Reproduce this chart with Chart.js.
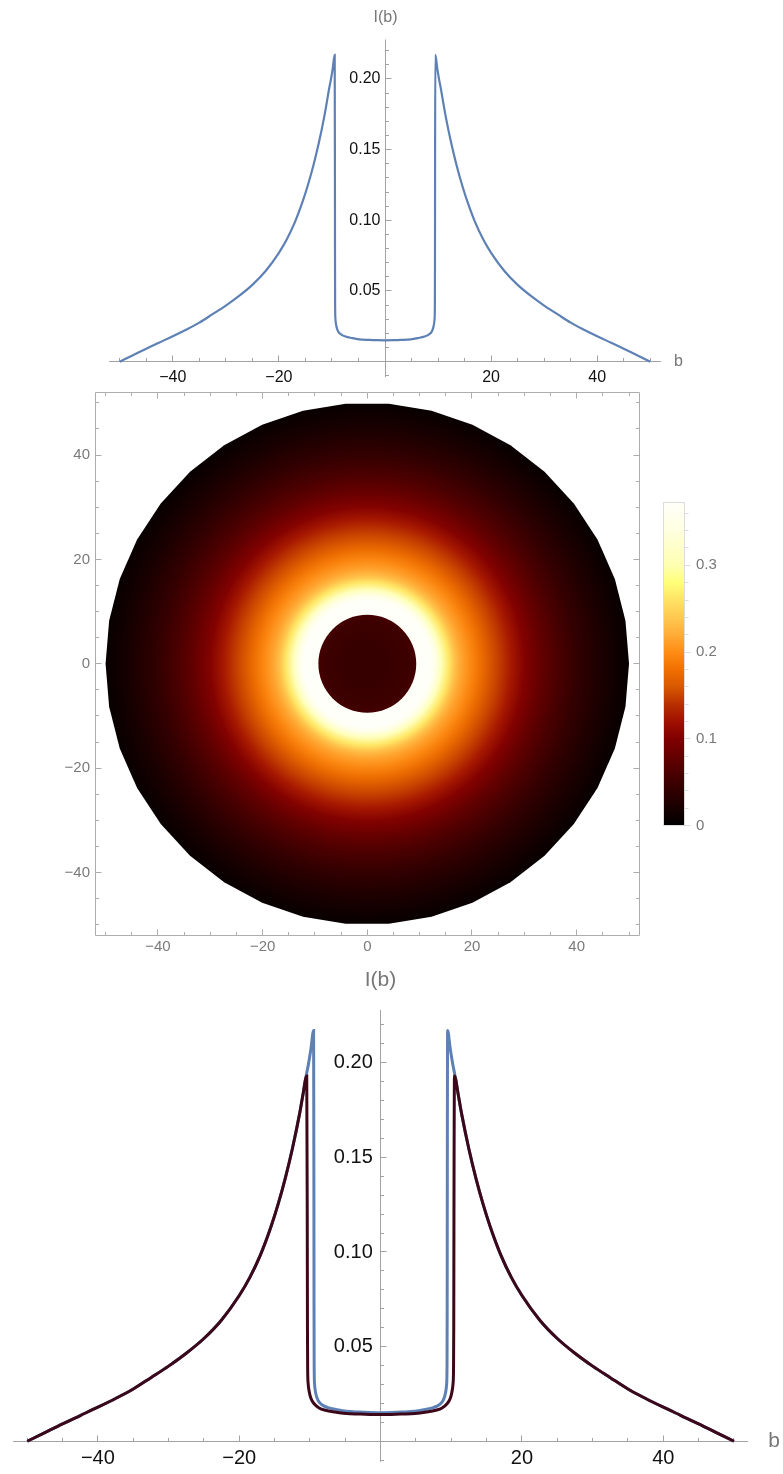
<!DOCTYPE html>
<html>
<head>
<meta charset="utf-8">
<title>I(b)</title>
<script src="https://cdn.jsdelivr.net/npm/chart.js@4.4.1/dist/chart.umd.min.js"></script>
<style>
  html, body { margin: 0; padding: 0; background: #fff; }
  body { width: 783px; height: 1474px; position: relative; overflow: hidden; }
  canvas { position: absolute; left: 0; }
</style>
</head>
<body>
<canvas id="profileTop" width="783" height="390" style="top:0"></canvas>
<canvas id="diskPlot" width="783" height="570" style="top:390px"></canvas>
<canvas id="colorBar" width="143" height="370" style="top:480px;left:640px"></canvas>
<canvas id="profileBottom" width="783" height="514" style="top:960px"></canvas>
<script>
// blue profile I(b): outer branch, jump at the shadow edge, inner branch
var blueB = [-50, -47.5, -45, -42.5, -40, -37.5, -35, -32.5, -30, -27.5, -25, -22.5, -20, -18.5, -17, -15.5, -14.5, -13.5, -12.5, -11.5, -11, -10.56, -10.2, -9.85, -9.48,
  -9.44, -9.42, -9.4, -9.34, -9.2, -8.87, -8.3, -7.45, -6.2, -4.86, -3, -1.5, 0,
  1.5, 3, 4.86, 6.2, 7.45, 8.3, 8.87, 9.2, 9.34, 9.4, 9.42, 9.44,
  9.48, 9.85, 10.2, 10.56, 11, 11.5, 12.5, 13.5, 14.5, 15.5, 17, 18.5, 20, 22.5, 25, 27.5, 30, 32.5, 35, 37.5, 40, 42.5, 45, 47.5, 50];
var blueI = [0.0000, 0.0046, 0.0092, 0.0136, 0.0180, 0.0226, 0.0276, 0.0336, 0.0397, 0.0465, 0.0543, 0.0641, 0.0770, 0.0866, 0.0985, 0.1135, 0.1253, 0.1388, 0.1543, 0.1723, 0.1828, 0.1925, 0.1995, 0.2075, 0.2170,
  0.1400, 0.0700, 0.0400, 0.0300, 0.0258, 0.0217, 0.0193, 0.0178, 0.0167, 0.0158, 0.0154, 0.0152, 0.0151,
  0.0152, 0.0154, 0.0158, 0.0167, 0.0178, 0.0193, 0.0217, 0.0258, 0.0300, 0.0400, 0.0700, 0.1400,
  0.2170, 0.2075, 0.1995, 0.1925, 0.1828, 0.1723, 0.1543, 0.1388, 0.1253, 0.1135, 0.0985, 0.0866, 0.0770, 0.0641, 0.0543, 0.0465, 0.0397, 0.0336, 0.0276, 0.0226, 0.0180, 0.0136, 0.0092, 0.0046, 0.0000];

// dark profile (bottom panel only)
var darkB = [-50, -47.5, -45, -42.5, -40, -37.5, -35, -32.5, -30, -27.5, -25, -22.5, -20, -18.5, -17, -15.5, -14.5, -13.5, -12.5, -11.5, -11, -10.45,
  -10.38, -10.35, -10.32, -10.25, -10.1, -9.85, -9.4, -8.7, -7.8, -6.5, -4.86, -3, -1.5, 0,
  1.5, 3, 4.86, 6.5, 7.8, 8.7, 9.4, 9.85, 10.1, 10.25, 10.32, 10.35, 10.38,
  10.45, 11, 11.5, 12.5, 13.5, 14.5, 15.5, 17, 18.5, 20, 22.5, 25, 27.5, 30, 32.5, 35, 37.5, 40, 42.5, 45, 47.5, 50];
var darkI = [0.0000, 0.0046, 0.0092, 0.0136, 0.0180, 0.0226, 0.0276, 0.0336, 0.0397, 0.0465, 0.0543, 0.0641, 0.0770, 0.0866, 0.0985, 0.1135, 0.1253, 0.1388, 0.1543, 0.1723, 0.1828, 0.1930,
  0.1200, 0.0600, 0.0380, 0.0305, 0.0262, 0.0226, 0.0198, 0.0176, 0.0164, 0.0155, 0.0147, 0.0144, 0.0142, 0.0141,
  0.0142, 0.0144, 0.0147, 0.0155, 0.0164, 0.0176, 0.0198, 0.0226, 0.0262, 0.0305, 0.0380, 0.0600, 0.1200,
  0.1930, 0.1828, 0.1723, 0.1543, 0.1388, 0.1253, 0.1135, 0.0985, 0.0866, 0.0770, 0.0641, 0.0543, 0.0465, 0.0397, 0.0336, 0.0276, 0.0226, 0.0180, 0.0136, 0.0092, 0.0046, 0.0000];

// ticks of the two profile panels
var bMajor = [-40, -20, 20, 40];
var bMajorLabels = ['\u221240', '\u221220', '20', '40'];
var bMinor = [-50, -45, -35, -30, -25, -15, -10, -5, 5, 10, 15, 25, 30, 35, 45, 50];
var iMajor = [0.05, 0.10, 0.15, 0.20];
var iMajorLabels = ['0.05', '0.10', '0.15', '0.20'];
var iMinor = [-0.01, 0.01, 0.02, 0.03, 0.04, 0.06, 0.07, 0.08, 0.09, 0.11, 0.12, 0.13, 0.14, 0.16, 0.17, 0.18, 0.19, 0.21, 0.22];

// image of the disk: value against radius
var shadowR = [0, 5, 8, 9.35];
var shadowVal = [0.044, 0.046, 0.050, 0.055];
var glowR = [9.35, 11, 12, 13, 14.1, 15.5, 16.7, 18, 20, 22, 25, 27.5, 30, 33, 36, 40, 44, 47, 50];
var glowVal = [0.42, 0.40, 0.38, 0.35, 0.31, 0.265, 0.235, 0.215, 0.195, 0.175, 0.148, 0.125, 0.102, 0.080, 0.062, 0.042, 0.026, 0.015, 0.006];

// frame ticks of the disk image
var frameMajor = [-40, -20, 0, 20, 40];
var frameMajorLabels = ['\u221240', '\u221220', '0', '20', '40'];
var frameMinor = [-50, -45, -35, -30, -25, -15, -10, -5, 5, 10, 15, 25, 30, 35, 45, 50];

// colour scale
var cmapVal = [0, 0.02, 0.04, 0.06, 0.08, 0.10, 0.12, 0.14, 0.16, 0.18, 0.20, 0.22, 0.24, 0.26, 0.28, 0.30, 0.34, 0.3726];
var cmapRGB = [[0,0,0], [24,0,0], [48,0,0], [74,0,0], [101,0,0], [128,0,0], [160,16,0], [184,48,0], [216,88,0], [240,112,0],
  [255,140,20], [255,172,56], [255,200,80], [255,226,100], [255,255,120], [255,255,176], [255,255,224], [255,255,250]];
var barMajor = [0, 0.1, 0.2, 0.3];
var barMajorLabels = ['0', '0.1', '0.2', '0.3'];
var barMinor = [0.02, 0.04, 0.06, 0.08, 0.12, 0.14, 0.16, 0.18, 0.22, 0.24, 0.26, 0.28, 0.32, 0.34, 0.36];

var FONT = '"Liberation Sans", Arial, sans-serif';

function colorAt(v) {
  if (v <= cmapVal[0]) return 'rgb(' + cmapRGB[0].join(',') + ')';
  for (var k = 1; k < cmapVal.length; k++) {
    if (v <= cmapVal[k]) {
      var t = (v - cmapVal[k - 1]) / (cmapVal[k] - cmapVal[k - 1]);
      var a = cmapRGB[k - 1], b = cmapRGB[k];
      return 'rgb(' + Math.round(a[0] + (b[0] - a[0]) * t) + ',' + Math.round(a[1] + (b[1] - a[1]) * t) + ',' + Math.round(a[2] + (b[2] - a[2]) * t) + ')';
    }
  }
  return 'rgb(' + cmapRGB[cmapRGB.length - 1].join(',') + ')';
}

function pts(xs, ys) {
  return xs.map(function (v, i) { return {x: v, y: ys[i]}; });
}

function crisp(v) { return Math.round(v - 0.5) + 0.5; }

// axes through the origin, ticks pointing inward like the original
var originAxes = {
  id: 'originAxes',
  beforeDatasetsDraw: function (chart, args, o) {
    var ctx = chart.ctx, a = chart.chartArea, xs = chart.scales.x, ys = chart.scales.y;
    var x0 = crisp(xs.getPixelForValue(0)), y0 = crisp(ys.getPixelForValue(0));
    ctx.save();
    ctx.strokeStyle = '#a2a2a2';
    ctx.lineWidth = 1;
    ctx.beginPath();
    ctx.moveTo(a.left, y0); ctx.lineTo(a.right, y0);
    ctx.moveTo(x0, a.top); ctx.lineTo(x0, a.bottom);
    bMajor.forEach(function (v) { var p = crisp(xs.getPixelForValue(v)); ctx.moveTo(p, y0); ctx.lineTo(p, y0 - 6); });
    bMinor.forEach(function (v) { var p = crisp(xs.getPixelForValue(v)); ctx.moveTo(p, y0); ctx.lineTo(p, y0 - 3.5); });
    iMajor.forEach(function (v) { var p = crisp(ys.getPixelForValue(v)); ctx.moveTo(x0, p); ctx.lineTo(x0 + 6, p); });
    iMinor.forEach(function (v) { var p = crisp(ys.getPixelForValue(v)); ctx.moveTo(x0, p); ctx.lineTo(x0 + 3.5, p); });
    ctx.stroke();

    ctx.fillStyle = '#111';
    ctx.font = o.tickSize + 'px ' + FONT;
    ctx.textBaseline = 'middle';
    ctx.textAlign = 'center';
    bMajor.forEach(function (v, i) { ctx.fillText(bMajorLabels[i], xs.getPixelForValue(v), y0 + o.xLabelDy); });
    ctx.textAlign = 'right';
    iMajor.forEach(function (v, i) { ctx.fillText(iMajorLabels[i], x0 - o.yLabelDx, ys.getPixelForValue(v)); });

    ctx.fillStyle = '#777';
    ctx.font = o.titleSize + 'px ' + FONT;
    ctx.textAlign = 'center';
    ctx.fillText('I(b)', x0, a.top - o.iTitleDy);
    ctx.fillText('b', a.right + o.bTitleDx, y0);
    ctx.restore();
  }
};

var profileOptions = function (pad, axisOpts) {
  return {
    responsive: false,
    animation: false,
    events: [],
    layout: {padding: pad},
    scales: {
      x: {type: 'linear', min: -52, max: 52, display: false},
      y: {type: 'linear', min: -0.01085, max: 0.2279, display: false}
    },
    plugins: {legend: {display: false}, tooltip: {enabled: false}, originAxes: axisOpts}
  };
};

new Chart(document.getElementById('profileTop'), {
  type: 'scatter',
  data: {
    datasets: [{
      data: pts(blueB, blueI),
      showLine: true, borderColor: '#5e81b5', borderWidth: 2.2, pointRadius: 0,
      cubicInterpolationMode: 'monotone'
    }]
  },
  options: profileOptions({left: 109.1, right: 122.1, top: 39.5, bottom: 13},
    {tickSize: 16, titleSize: 16, xLabelDy: 15.6, yLabelDx: 5, iTitleDy: 22, bTitleDx: 17.5}),
  plugins: [originAxes]
});

// dark curve listed first so it is drawn over the blue one
new Chart(document.getElementById('profileBottom'), {
  type: 'scatter',
  data: {
    datasets: [{
      data: pts(darkB, darkI),
      showLine: true, borderColor: '#3c0718', borderWidth: 3, pointRadius: 0,
      cubicInterpolationMode: 'monotone'
    }, {
      data: pts(blueB, blueI),
      showLine: true, borderColor: '#5e81b5', borderWidth: 3, pointRadius: 0,
      cubicInterpolationMode: 'monotone'
    }]
  },
  options: profileOptions({left: 13.1, right: 34.9, top: 49.9, bottom: 12.2},
    {tickSize: 20, titleSize: 21, xLabelDy: 17, yLabelDx: 7.7, iTitleDy: 30, bTitleDx: 26}),
  plugins: [originAxes]
});

// disk image drawn on the chart's own x/y scales
var diskImage = {
  id: 'diskImage',
  beforeDatasetsDraw: function (chart) {
    var ctx = chart.ctx, a = chart.chartArea, xs = chart.scales.x, ys = chart.scales.y;
    var cx = xs.getPixelForValue(0), cy = ys.getPixelForValue(0);
    var rEdge = glowR[glowR.length - 1], rIn = shadowR[shadowR.length - 1];
    var rPx = function (r) { return xs.getPixelForValue(r) - cx; };
    var n = 38, step = 2 * Math.PI / n, k;

    ctx.save();
    ctx.beginPath();
    for (k = 0; k < n; k++) {
      var ang = Math.PI / 2 + step / 2 + k * step;
      var px = xs.getPixelForValue(rEdge * Math.cos(ang)), py = ys.getPixelForValue(rEdge * Math.sin(ang));
      if (k === 0) ctx.moveTo(px, py); else ctx.lineTo(px, py);
    }
    ctx.closePath();
    ctx.clip();
    var g = ctx.createRadialGradient(cx, cy, 0, cx, cy, rPx(rEdge));
    g.addColorStop(0, colorAt(glowVal[0]));
    glowR.forEach(function (r, i) { g.addColorStop(r / rEdge, colorAt(glowVal[i])); });
    ctx.fillStyle = g;
    ctx.fillRect(a.left, a.top, a.right - a.left, a.bottom - a.top);

    var g2 = ctx.createRadialGradient(cx, cy, 0, cx, cy, rPx(rIn));
    shadowR.forEach(function (r, i) { g2.addColorStop(r / rIn, colorAt(shadowVal[i])); });
    ctx.fillStyle = g2;
    ctx.beginPath();
    ctx.arc(cx, cy, rPx(rIn), 0, 2 * Math.PI);
    ctx.fill();
    ctx.restore();

    // frame with inward ticks
    var L = crisp(a.left), R = crisp(a.right), T = crisp(a.top), B = crisp(a.bottom);
    ctx.save();
    ctx.strokeStyle = '#adadad';
    ctx.lineWidth = 1;
    ctx.beginPath();
    ctx.rect(L, T, R - L, B - T);
    var tick = function (v, len) {
      var px = crisp(xs.getPixelForValue(v)), py = crisp(ys.getPixelForValue(v));
      ctx.moveTo(px, B); ctx.lineTo(px, B - len);
      ctx.moveTo(px, T); ctx.lineTo(px, T + len);
      ctx.moveTo(L, py); ctx.lineTo(L + len, py);
      ctx.moveTo(R, py); ctx.lineTo(R - len, py);
    };
    frameMajor.forEach(function (v) { tick(v, 6); });
    frameMinor.forEach(function (v) { tick(v, 3.5); });
    ctx.stroke();
    ctx.fillStyle = '#7a7a7a';
    ctx.font = '15px ' + FONT;
    ctx.textBaseline = 'middle';
    ctx.textAlign = 'center';
    frameMajor.forEach(function (v, i) { ctx.fillText(frameMajorLabels[i], xs.getPixelForValue(v), B + 11.5); });
    ctx.textAlign = 'right';
    frameMajor.forEach(function (v, i) { ctx.fillText(frameMajorLabels[i], L - 5.5, ys.getPixelForValue(v)); });
    ctx.restore();
  }
};

new Chart(document.getElementById('diskPlot'), {
  type: 'scatter',
  data: {datasets: [{data: [], pointRadius: 0}]},
  options: {
    responsive: false,
    animation: false,
    events: [],
    layout: {padding: {left: 95.1, right: 143.5, top: 2.4, bottom: 24.8}},
    scales: {
      x: {type: 'linear', min: -52, max: 52, display: false},
      y: {type: 'linear', min: -52, max: 52, display: false}
    },
    plugins: {legend: {display: false}, tooltip: {enabled: false}}
  },
  plugins: [diskImage]
});

// colour bar on its own value scale
var barLegend = {
  id: 'barLegend',
  beforeDatasetsDraw: function (chart) {
    var ctx = chart.ctx, a = chart.chartArea, ys = chart.scales.y;
    ctx.save();
    var g = ctx.createLinearGradient(0, ys.getPixelForValue(0), 0, ys.getPixelForValue(ys.max));
    cmapVal.forEach(function (v, i) { g.addColorStop(v / ys.max, 'rgb(' + cmapRGB[i].join(',') + ')'); });
    ctx.fillStyle = g;
    ctx.fillRect(a.left, a.top, a.right - a.left, a.bottom - a.top);
    ctx.strokeStyle = '#dcdcdc';
    ctx.lineWidth = 1;
    ctx.strokeRect(crisp(a.left), crisp(a.top), Math.round(a.right - a.left), Math.round(a.bottom - a.top));
    var R = crisp(a.right);
    ctx.beginPath();
    barMajor.forEach(function (v) { var p = crisp(ys.getPixelForValue(v)); ctx.moveTo(R, p); ctx.lineTo(R + 6, p); });
    barMinor.forEach(function (v) { var p = crisp(ys.getPixelForValue(v)); ctx.moveTo(R, p); ctx.lineTo(R + 4, p); });
    ctx.stroke();
    ctx.fillStyle = '#777';
    ctx.font = '15px ' + FONT;
    ctx.textBaseline = 'middle';
    ctx.textAlign = 'left';
    barMajor.forEach(function (v, i) { ctx.fillText(barMajorLabels[i], a.right + 11.3, ys.getPixelForValue(v)); });
    ctx.restore();
  }
};

new Chart(document.getElementById('colorBar'), {
  type: 'scatter',
  data: {datasets: [{data: [], pointRadius: 0}]},
  options: {
    responsive: false,
    animation: false,
    events: [],
    layout: {padding: {left: 23.3, right: 98.3, top: 22.3, bottom: 24.3}},
    scales: {
      x: {type: 'linear', min: 0, max: 1, display: false},
      y: {type: 'linear', min: 0, max: 0.3726, display: false}
    },
    plugins: {legend: {display: false}, tooltip: {enabled: false}}
  },
  plugins: [barLegend]
});
</script>
</body>
</html>
